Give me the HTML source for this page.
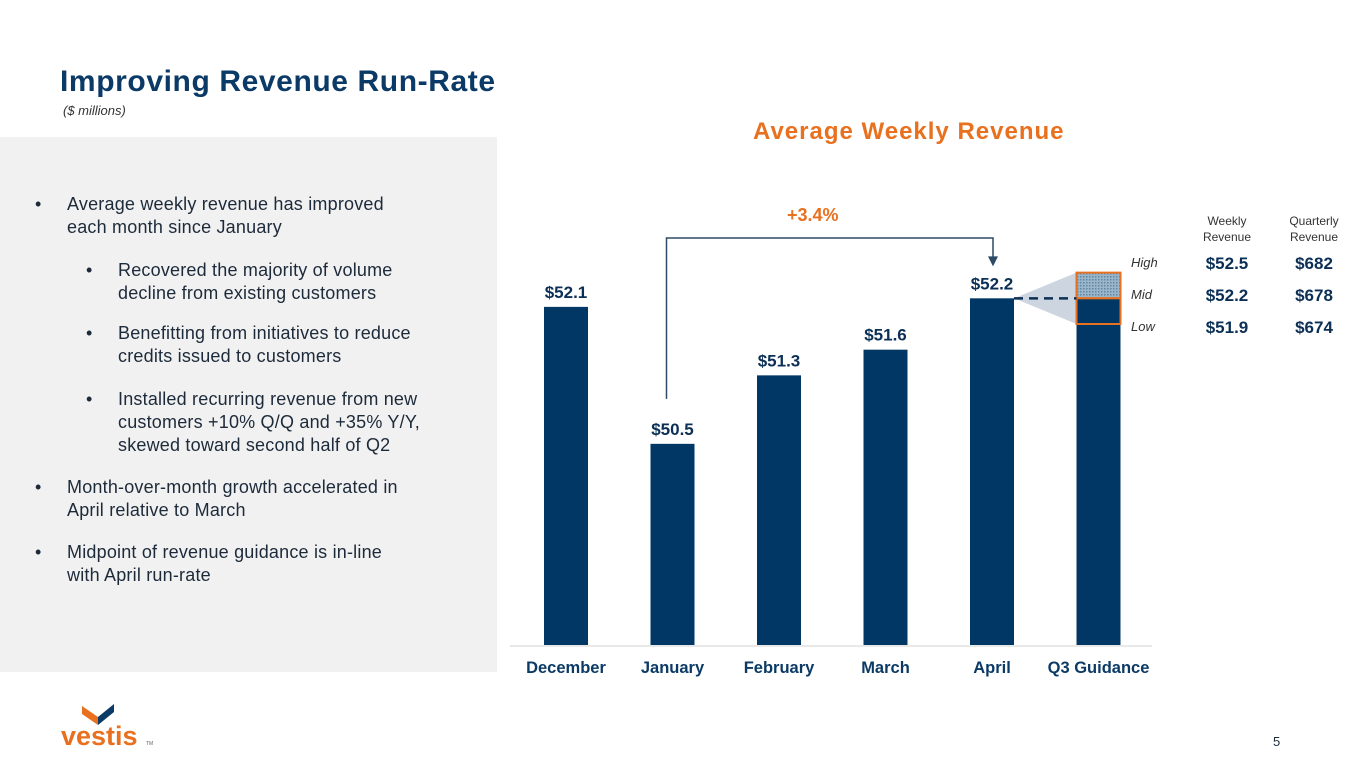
<!DOCTYPE html>
<html><head><meta charset="utf-8"><style>
body{margin:0;width:1365px;height:768px;background:#fff;font-family:"Liberation Sans",sans-serif;position:relative;overflow:hidden;color:#0b2f55}
.abs{position:absolute}
.title{left:60px;top:65px;font-size:30px;font-weight:bold;color:#0b3a66;letter-spacing:0.6px}
.sub{left:63px;top:103px;font-size:13px;font-style:italic;color:#333}
.panel{left:0;top:137px;width:497px;height:535px;background:#f1f1f1}
.b{position:absolute;font-size:18px;color:#1d2a3a;line-height:23px;white-space:nowrap;letter-spacing:0.2px}
.b:before{content:"•";position:absolute;left:-32px}
</style></head><body>
<div class="abs title">Improving Revenue Run-Rate</div>
<div class="abs sub">($ millions)</div>
<div class="abs panel">
 <div class="b" style="left:67px;top:56px">Average weekly revenue has improved<br>each month since January</div>
 <div class="b" style="left:118px;top:122px">Recovered the majority of volume<br>decline from existing customers</div>
 <div class="b" style="left:118px;top:185px">Benefitting from initiatives to reduce<br>credits issued to customers</div>
 <div class="b" style="left:118px;top:251px">Installed recurring revenue from new<br>customers +10% Q/Q and +35% Y/Y,<br>skewed toward second half of Q2</div>
 <div class="b" style="left:67px;top:339px">Month-over-month growth accelerated in<br>April relative to March</div>
 <div class="b" style="left:67px;top:404px">Midpoint of revenue guidance is in-line<br>with April run-rate</div>
</div>
<div class="abs" style="left:753px;top:118px;font-size:24px;font-weight:bold;color:#e8701e;letter-spacing:1px">Average Weekly Revenue</div>
<svg class="abs" style="left:0;top:0" width="1365" height="768" id="chart">
<defs><pattern id="dots" width="3" height="3" patternUnits="userSpaceOnUse"><rect width="3" height="3" fill="#9bb6c9"/><rect width="1.5" height="1.5" fill="#5f86a6"/></pattern></defs>
</svg>
<div class="abs" style="left:1273px;top:734px;font-size:13px;color:#1d2a3a">5</div>
<svg class="abs" style="left:60px;top:700px" width="100" height="50">
<polygon points="22,6 38,17 38,25 22,14" fill="#e8701e"/><polygon points="38,17 54,4 54,12 38,25" fill="#0b3a66"/>
<text x="1" y="45" font-family="Liberation Sans" font-weight="bold" font-size="27" fill="#e8701e">vestis</text>
<text x="86" y="45" font-size="5" fill="#666">TM</text></svg>
<script>
const categories=["December","January","February","March","April","Q3 Guidance"];
const values=[52.1,50.5,51.3,51.6,52.2,52.2];
const labels=["$52.1","$50.5","$51.3","$51.6","$52.2",""];
const guideHigh=52.5, guideMid=52.2, guideLow=51.9;
const tableRows=["High","Mid","Low"];
const weekly=["$52.5","$52.2","$51.9"];
const quarterly=["$682","$678","$674"];
const growth="+3.4%";
const NS="http://www.w3.org/2000/svg";
const svg=document.getElementById('chart');
const base=645,ppu=85.6,v0=48.15;
const y=v=>base-(v-v0)*ppu;
const x=i=>566+i*106.5;
const bw=44;
function el(t,a,txt){const e=document.createElementNS(NS,t);for(const k in a)e.setAttribute(k,a[k]);if(txt!=null)e.textContent=txt;svg.appendChild(e);return e;}
const ax=el('line',{x1:510,x2:1152,y1:base+1,y2:base+1,stroke:'#d0d0d0'});


const gi=5, gx=x(gi)-bw/2;
const cone=el('polygon',{points:`${x(4)+bw/2},${y(guideMid)} ${gx},${y(guideHigh)} ${gx},${y(guideLow)}`,fill:'#cdd6e0'});


categories.forEach((c,i)=>{
 const top=i===gi?y(guideLow):y(values[i]);
 const r=el('rect',{x:x(i)-bw/2,y:top,width:bw,height:base-top,fill:'#003764'});
 
 
 if(labels[i]){const t=el('text',{x:x(i),y:y(values[i])-9,'text-anchor':'middle','font-size':17,'font-weight':'bold',fill:'#0b2f55'},labels[i]);
 
 }
 const l=el('text',{x:x(i),y:673,'text-anchor':'middle','font-size':16.5,'font-weight':'bold',fill:'#0b3a66'},c);
 
 
});
const hi=el('rect',{x:gx,y:y(guideHigh),width:bw,height:y(guideMid)-y(guideHigh),fill:'url(#dots)',stroke:'#e8701e','stroke-width':2});


const lo=el('rect',{x:gx,y:y(guideMid),width:bw,height:y(guideLow)-y(guideMid),fill:'#003764',stroke:'#e8701e','stroke-width':2});


const dl=el('line',{x1:x(4)+bw/2,x2:gx,y1:y(guideMid),y2:y(guideMid),stroke:'#0b2f55','stroke-width':2.5,'stroke-dasharray':'9,6'});


const ay=238, ax1=x(1)-6, ax2=x(4)+1;
const ar=el('polyline',{points:`${ax1},${y(values[1])-45} ${ax1},${ay} ${ax2},${ay} ${ax2},${y(values[4])-40}`,fill:'none',stroke:'#2d4a66','stroke-width':1.5});


const ah=el('polygon',{points:`${ax2-5},${y(values[4])-42} ${ax2+5},${y(values[4])-42} ${ax2},${y(values[4])-32}`,fill:'#2d4a66'});


const g=el('text',{x:(ax1+ax2)/2-17,y:221,'text-anchor':'middle','font-size':18,'font-weight':'bold',fill:'#e8701e'},growth);


[["Weekly","Revenue",1227],["Quarterly","Revenue",1314]].forEach(h=>{
 const t1=el('text',{x:h[2],y:225,'text-anchor':'middle','font-size':12,fill:'#333'},h[0]);
 
 
 const t2=el('text',{x:h[2],y:241,'text-anchor':'middle','font-size':12,fill:'#333'},h[1]);
 
 
});
tableRows.forEach((r,i)=>{
 const yy=267+i*32;
 const a=el('text',{x:1131,y:yy,'font-size':13,'font-style':'italic',fill:'#333'},r);
 
 
 const b=el('text',{x:1227,y:yy+2,'text-anchor':'middle','font-size':17,'font-weight':'bold',fill:'#0b2f55'},weekly[i]);
 
 
 const c=el('text',{x:1314,y:yy+2,'text-anchor':'middle','font-size':17,'font-weight':'bold',fill:'#0b2f55'},quarterly[i]);
 
 
});
</script>
</body></html>
